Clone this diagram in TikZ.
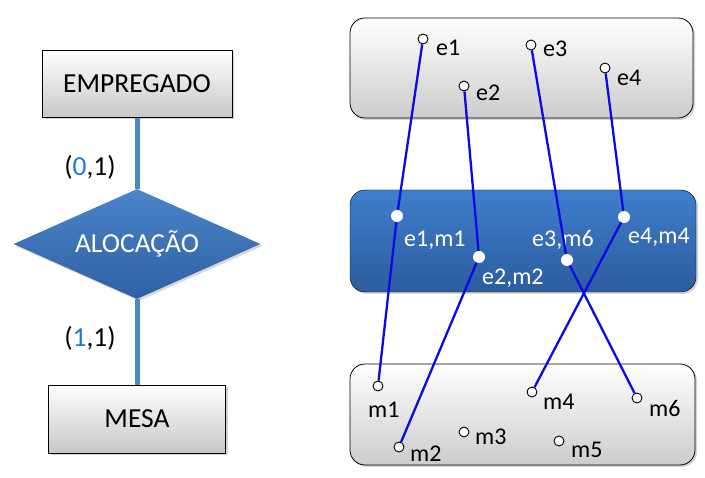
\documentclass[tikz,border=0pt]{standalone}
\usepackage{fontspec}
\setmainfont{Carlito}
\usetikzlibrary{shapes.geometric,shadows}
\definecolor{erblue}{HTML}{4F86C6}
\definecolor{reltop}{HTML}{3F7ECC}
\definecolor{relbot}{HTML}{2C5C9E}
\definecolor{diatop}{HTML}{4C84C9}
\definecolor{diabot}{HTML}{2F60A4}
\definecolor{linkblue}{HTML}{0A0AE6}
\definecolor{numblue}{HTML}{1E78D8}
\tikzset{
  entbox/.style={draw=black, line width=0.8pt, top color=white, bottom color=black!22,
    drop shadow={shadow xshift=2pt, shadow yshift=-2pt, opacity=0.35},
    font=\fontsize{27.5}{32}\selectfont, inner sep=0pt},
  setbox/.style={draw=black, line width=0.8pt, rounded corners=15pt, top color=white, bottom color=black!20,
    drop shadow={shadow xshift=2pt, shadow yshift=-2pt, opacity=0.35}},
  relbox/.style={rounded corners=15pt, top color=reltop, bottom color=relbot,
    drop shadow={shadow xshift=2pt, shadow yshift=-2pt, opacity=0.35}},
  elem/.style={circle, draw=black, fill=white, line width=0.9pt, minimum size=10pt, inner sep=0pt},
  pair/.style={circle, fill=white, minimum size=12pt, inner sep=0pt},
  lbl/.style={font=\fontsize{24}{28}\selectfont, anchor=west, inner sep=0pt},
  wlbl/.style={lbl, text=white},
  card/.style={font=\fontsize{27.5}{32}\selectfont, inner sep=0pt},
  erline/.style={erblue, line width=5pt},
  link/.style={linkblue, line width=2.3pt}
}
\begin{document}
\begin{tikzpicture}[x=1pt,y=-1pt]
\useasboundingbox (0,0) rectangle (705,478);
% left ER diagram
\node[entbox, minimum width=190pt, minimum height=67pt] (emp) at (137,84) {EMPREGADO};
\node[entbox, minimum width=177pt, minimum height=68pt] (mesa) at (137,419) {MESA};
\node[diamond, minimum width=247pt, minimum height=110pt, inner sep=0pt, aspect=2.25,
  top color=diatop, bottom color=diabot, text=white,
  font=\fontsize{27.5}{32}\selectfont,
  drop shadow={shadow xshift=2pt, shadow yshift=-2pt, opacity=0.3}] (rel) at (137,244) {ALOCAÇÃO};
\draw[erline] (emp.south) -- (rel.north);
\draw[erline] (rel.south) -- (mesa.north);
\node[card] (c1) at (90,167) {(\textcolor{numblue}{0},1)};
\node[card] (c2) at (90,338) {(\textcolor{numblue}{1},1)};
% right sets
\draw[setbox] (350,18) rectangle (693,118);
\draw[relbox] (350,190) rectangle (696,292);
\draw[setbox] (350,364) rectangle (695,465);
% elements
\node[elem] (e1) at (423,39) {};
\node[elem] (e2) at (464,86) {};
\node[elem] (e3) at (531,45) {};
\node[elem] (e4) at (605,68) {};
\node[lbl] (le1) at (436,48) {e1};
\node[lbl] (le2) at (476,93) {e2};
\node[lbl] (le3) at (543,49) {e3};
\node[lbl] (le4) at (617,78) {e4};
\node[elem] (m1) at (378,386) {};
\node[elem] (m2) at (399,447) {};
\node[elem] (m3) at (464,432) {};
\node[elem] (m4) at (532,392) {};
\node[elem] (m5) at (559,441) {};
\node[elem] (m6) at (637,398) {};
\node[lbl] (lm1) at (368,410) {m1};
\node[lbl] (lm2) at (410,454) {m2};
\node[lbl] (lm3) at (475,437) {m3};
\node[lbl] (lm4) at (543,402) {m4};
\node[lbl] (lm5) at (571,450) {m5};
\node[lbl] (lm6) at (649,408) {m6};
% pairs
\node[pair] (p1) at (397,216) {};
\node[pair] (p2) at (479,257) {};
\node[pair] (p3) at (567,260) {};
\node[pair] (p4) at (624,217) {};
\node[wlbl] (lp1) at (404,240) {e1,m1};
\node[wlbl] (lp2) at (482,278) {e2,m2};
\node[wlbl] (lp3) at (532,240) {e3,m6};
\node[wlbl] (lp4) at (628,237) {e4,m4};
% links
\draw[link] (e1) -- (p1) -- (m1);
\draw[link] (e2) -- (p2) -- (m2);
\draw[link] (e3) -- (p3) -- (m6);
\draw[link] (e4) -- (p4) -- (m4);
\end{tikzpicture}
\end{document}
